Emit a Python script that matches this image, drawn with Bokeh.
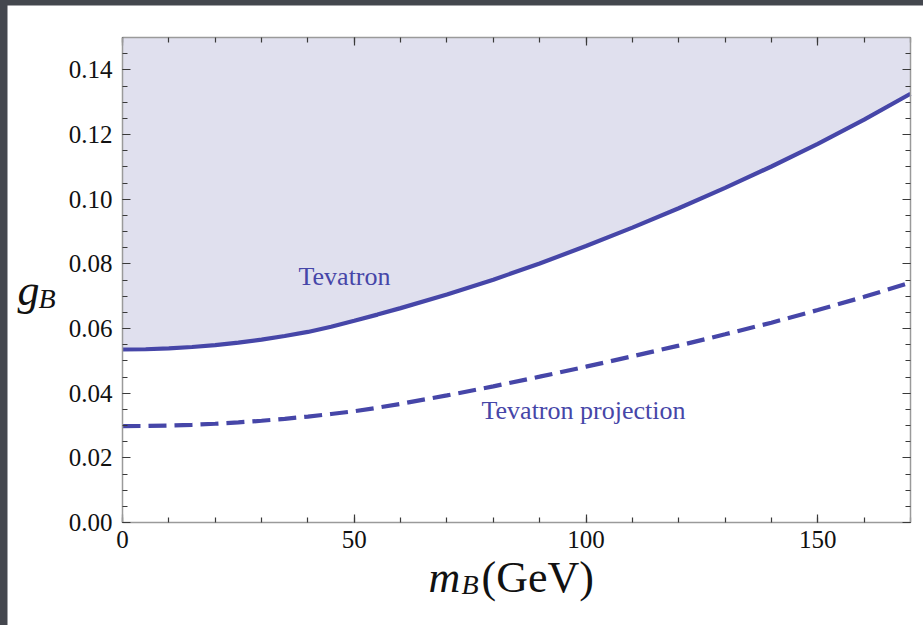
from bokeh.plotting import figure
from bokeh.models import (LinearAxis, SingleIntervalTicker, PrintfTickFormatter,
                          CustomJSTickFormatter, Label, Range1d)
from bokeh.layouts import column
from bokeh.embed import file_html
from bokeh.resources import INLINE

# ---- data ----
mass = [0, 5, 10, 15, 20, 25, 30, 35, 40, 45, 50, 55, 60, 70, 80, 90, 100,
        110, 120, 130, 140, 150, 160, 170]
tevatron = [0.05350, 0.05359, 0.05384, 0.05427, 0.05486, 0.05563, 0.05656, 0.05767,
            0.05894, 0.06055, 0.06240, 0.06430, 0.06630, 0.0705, 0.0751, 0.0801,
            0.0855, 0.0912, 0.0972, 0.1035, 0.1101, 0.1171, 0.1246, 0.1326]
projection = [0.02980, 0.02985, 0.02999, 0.03022, 0.03054, 0.03096, 0.03147, 0.03207,
              0.03276, 0.03355, 0.03440, 0.03550, 0.0367, 0.0393, 0.0421, 0.0451,
              0.0482, 0.0514, 0.0547, 0.0582, 0.0618, 0.0657, 0.0698, 0.0742]
x_lim = (0, 170)
y_lim = (0, 0.15)
label_tev = "Tevatron"
label_proj = "Tevatron projection"

LINE = "#4646A8"
FILL = "#E0E0EE"
AXIS = "#9A9A9A"
TICK = "#3A3A3A"
TXT = "#111111"
SERIF = "Liberation Serif"

# ---- layout (pixels) ----
W, H = 916, 620               # canvas
FL, FR, FT, FB = 115, 903, 32, 517   # plot box inside the canvas
sx = (FR - FL) / (x_lim[1] - x_lim[0])
sy = (FB - FT) / (y_lim[1] - y_lim[0])
xr = Range1d(x_lim[0] - FL / sx, x_lim[1] + (W - FR) / sx)
yr = Range1d(y_lim[0] - (H - FB) / sy, y_lim[1] + FT / sy)

def px_x(page_x):   # page pixel -> data x
    return x_lim[0] + (page_x - 7 - FL) / sx

def px_y(page_y):   # page pixel -> data y
    return y_lim[0] + (FB - (page_y - 5)) / sy

p = figure(width=W, height=H, x_range=xr, y_range=yr, title=None,
           output_backend="svg", toolbar_location=None, min_border=0,
           background_fill_color="white", border_fill_color="white",
           outline_line_color=None)
p.xgrid.visible = False
p.ygrid.visible = False

# shaded excluded region and curves
p.varea(x=mass, y1=tevatron, y2=y_lim[1], fill_color=FILL, fill_alpha=1.0)
p.line(x=mass, y=tevatron, line_color=LINE, line_width=4.2)
p.line(x=mass, y=projection, line_color=LINE, line_width=4.2, line_dash="18 8")

def style_axis(ax, labels=True):
    ax.axis_line_color = AXIS
    ax.axis_line_width = 1.5
    ax.major_tick_in = 8
    ax.major_tick_out = 0
    ax.minor_tick_in = 5
    ax.minor_tick_out = 0
    ax.major_tick_line_color = TICK
    ax.minor_tick_line_color = TICK
    ax.major_tick_line_width = 1.2
    ax.minor_tick_line_width = 1.2
    ax.major_label_text_font = SERIF
    ax.major_label_text_font_size = "25px"
    ax.major_label_text_color = TXT
    if not labels:
        ax.formatter = CustomJSTickFormatter(code="return ''")
        ax.major_label_standoff = 0

for ax in p.xaxis:
    ax.ticker = SingleIntervalTicker(interval=50, num_minor_ticks=5)
    style_axis(ax)
    ax.major_label_standoff = 8
    ax.fixed_location = y_lim[0]
    ax.bounds = x_lim
for ax in p.yaxis:
    ax.ticker = SingleIntervalTicker(interval=0.02, num_minor_ticks=4)
    ax.formatter = PrintfTickFormatter(format="%.2f")
    style_axis(ax)
    ax.major_label_standoff = 10
    ax.fixed_location = x_lim[0]
    ax.bounds = y_lim

top = LinearAxis(ticker=SingleIntervalTicker(interval=50, num_minor_ticks=5))
style_axis(top, labels=False)
top.fixed_location = y_lim[1]
top.bounds = x_lim
p.add_layout(top, "above")
right = LinearAxis(ticker=SingleIntervalTicker(interval=0.02, num_minor_ticks=4))
style_axis(right, labels=False)
right.fixed_location = x_lim[1]
right.bounds = y_lim
p.add_layout(right, "right")

# in-plot labels
p.add_layout(Label(x=px_x(298), y=px_y(276), text=label_tev, text_font=SERIF,
                   text_font_size="26px", text_color=LINE,
                   text_baseline="middle", text_align="left"))
p.add_layout(Label(x=px_x(481), y=px_y(410), text=label_proj, text_font=SERIF,
                   text_font_size="26px", text_color=LINE,
                   text_baseline="middle", text_align="left"))

# axis titles
def title_label(page_x, page_y, text, size, italic):
    return Label(x=px_x(page_x), y=px_y(page_y), text=text,
                 text_font=SERIF, text_font_size=size,
                 text_font_style="italic" if italic else "normal",
                 text_color=TXT, text_baseline="alphabetic", text_align="left")

p.add_layout(title_label(428, 577, "m", "44px", True))
p.add_layout(title_label(461, 584, "B", "28px", True))
p.add_layout(title_label(481, 577, "(GeV)", "44px", False))
p.add_layout(title_label(17, 290, "g", "44px", True))
p.add_layout(title_label(38, 298, "B", "28px", True))

p.margin = (5, 0, 0, 7)
root = column(p, styles={"background-color": "#44474E"})

open("out.html", "w").write(file_html(root, INLINE))
